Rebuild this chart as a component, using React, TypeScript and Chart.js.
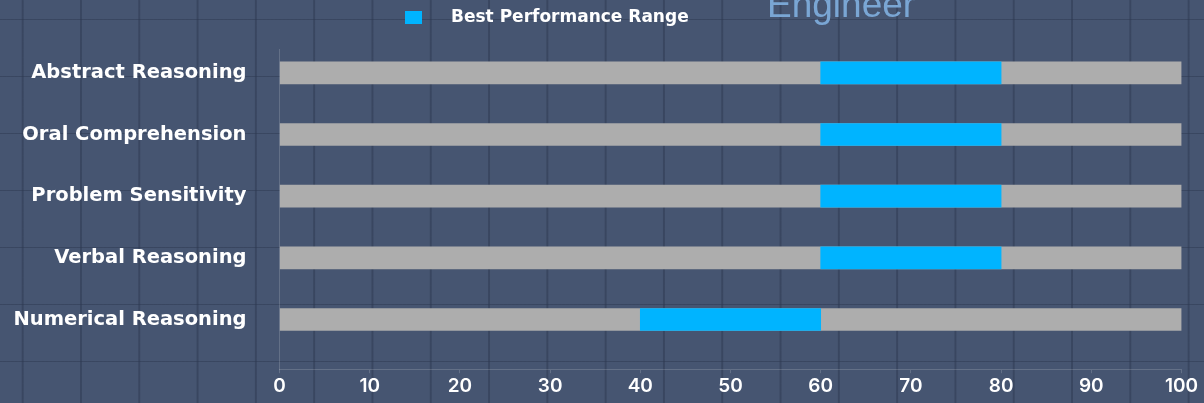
import React, { useEffect, useRef } from 'react';
import { Chart, registerables } from 'chart.js';

Chart.register(...registerables);

const categories = [
  'Abstract Reasoning',
  'Oral Comprehension',
  'Problem Sensitivity',
  'Verbal Reasoning',
  'Numerical Reasoning',
];
const rangeStart = [60, 60, 60, 60, 40];
const rangeEnd = [80, 80, 80, 80, 60];
const trackStart = [0, 0, 0, 0, 0];
const trackEnd = [100, 100, 100, 100, 100];
const xTickValues = [0, 10, 20, 30, 40, 50, 60, 70, 80, 90, 100];
const legendLabel = 'Best Performance Range';
const titleText = 'Engineer';

const LABEL_FONT = '"DejaVu Sans", sans-serif';
const DIGIT_FONT = 'Inter, "Noto Sans", sans-serif';
const BLUE = '#00b4ff';
const GREY = '#adadad';
const FAINT = 'rgba(255,255,255,0.16)';

export default function App() {
  const ref = useRef<HTMLCanvasElement | null>(null);

  useEffect(() => {
    document.body.style.margin = '0';
    const canvas = ref.current;
    if (!canvas) return;
    const chart = new Chart(canvas, {
      type: 'bar',
      data: {
        datasets: [
          {
            label: 'Track',
            data: categories.map((_, i) => ({ y: i, x: [trackStart[i], trackEnd[i]] })) as any,
            backgroundColor: GREY,
            barThickness: 22,
            grouped: false,
            order: 2,
          },
          {
            label: legendLabel,
            data: categories.map((_, i) => ({ y: i, x: [rangeStart[i], rangeEnd[i]] })) as any,
            backgroundColor: BLUE,
            barThickness: 22,
            grouped: false,
            order: 1,
          },
        ],
      },
      options: {
        indexAxis: 'y',
        animation: false,
        responsive: false,
        maintainAspectRatio: false,
        layout: { padding: { top: 49, bottom: 3, left: 0, right: 22.5 } },
        plugins: {
          legend: { display: false },
          title: { display: false },
          tooltip: { enabled: false },
        },
        scales: {
          x: {
            type: 'linear',
            min: 0,
            max: 100,
            offset: false,
            afterBuildTicks: (s: any) => {
              s.ticks = xTickValues.map((v) => ({ value: v }));
            },
            ticks: {
              color: '#ffffff',
              font: { family: DIGIT_FONT, size: 19, weight: '600' },
              padding: 2,
              maxRotation: 0,
              autoSkip: false,
            },
            grid: { offset: false, drawOnChartArea: false, drawTicks: true, tickLength: 4, color: FAINT },
            border: { display: true, color: FAINT },
          },
          y: {
            type: 'linear',
            reverse: true,
            offset: false,
            min: -0.387,
            max: 4.806,
            afterBuildTicks: (s: any) => {
              s.ticks = categories.map((_, i) => ({ value: i }));
            },
            afterFit: (s: any) => {
              s.width = 279.5;
            },
            ticks: {
              callback: (v: any) => categories[Number(v)] ?? '',
              color: '#ffffff',
              font: { family: LABEL_FONT, size: 19.5, weight: 'bold' },
              padding: 0,
              autoSkip: false,
            },
            grid: {
              offset: false,
              drawOnChartArea: false,
              drawTicks: true,
              tickLength: 33,
              color: 'rgba(0,0,0,0)',
            },
            border: { display: true, color: FAINT },
          },
        },
      },
    } as any);
    return () => chart.destroy();
  }, []);

  return (
    <div
      style={{
        position: 'fixed',
        left: 0,
        top: 0,
        width: 1204,
        height: 403,
        overflow: 'hidden',
        backgroundColor: '#465571',
        backgroundImage:
          'linear-gradient(to right, rgba(44,56,80,0.5) 1.5px, transparent 1.5px), linear-gradient(to bottom, rgba(44,56,80,0.5) 1.5px, transparent 1.5px)',
        backgroundSize: '58.3px 57px',
        backgroundPosition: '21.7px 19px',
      }}
    >
      <canvas ref={ref} width={1204} height={403} style={{ position: 'absolute', left: 0, top: 0 }} />
      <div
        style={{
          position: 'absolute',
          left: 405,
          top: 11,
          width: 17,
          height: 13,
          background: BLUE,
        }}
      />
      <div
        style={{
          position: 'absolute',
          left: 451,
          top: 5,
          height: 22,
          lineHeight: '22px',
          fontFamily: LABEL_FONT,
          fontWeight: 700,
          fontSize: 17,
          color: '#ffffff',
          whiteSpace: 'nowrap',
        }}
      >
        {legendLabel}
      </div>
      <div
        style={{
          position: 'absolute',
          left: 767,
          top: -14,
          lineHeight: '37px',
          fontFamily: '"Liberation Sans", Arial, sans-serif',
          fontSize: 37,
          color: '#7aa6d4',
          whiteSpace: 'nowrap',
        }}
      >
        {titleText}
      </div>
    </div>
  );
}
